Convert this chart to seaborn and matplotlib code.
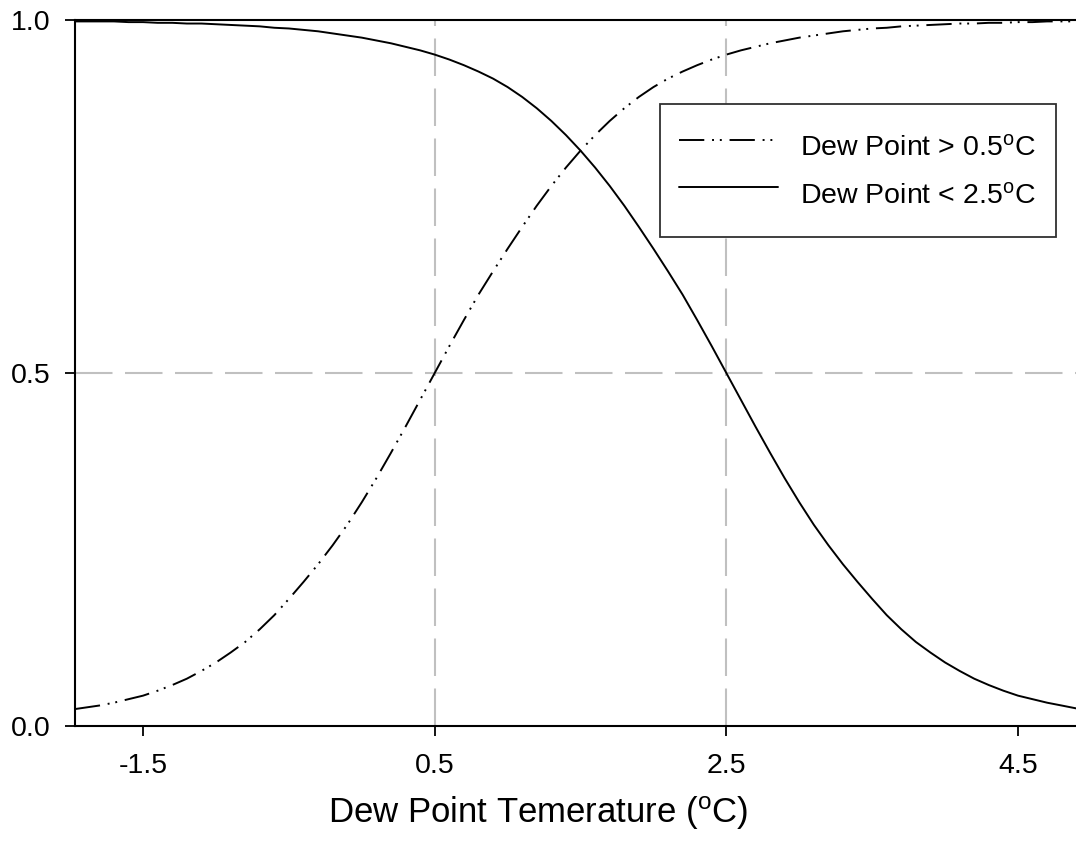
import matplotlib
matplotlib.use("Agg")
import matplotlib.pyplot as plt
import seaborn as sns
import pandas as pd

# ---- data ----
dew_x = [-1.967, -1.9, -1.8, -1.7, -1.6, -1.5, -1.4, -1.3, -1.2, -1.1, -1.0,
         -0.9, -0.8, -0.7, -0.6, -0.5, -0.4, -0.3, -0.2, -0.1, 0.0,
         0.1, 0.2, 0.3, 0.4, 0.5, 0.6, 0.7, 0.8, 0.9, 1.0,
         1.1, 1.2, 1.3, 1.4, 1.5, 1.6, 1.7, 1.8, 1.9, 2.0,
         2.1, 2.2, 2.3, 2.4, 2.5, 2.6, 2.7, 2.8, 2.9, 3.0,
         3.1, 3.2, 3.3, 3.4, 3.5, 3.6, 3.7, 3.8, 3.9, 4.0,
         4.1, 4.2, 4.3, 4.4, 4.5, 4.6, 4.7, 4.8, 4.898]
above_05 = [0.024, 0.026, 0.029, 0.033, 0.038, 0.043, 0.050, 0.058, 0.067, 0.078, 0.090,
            0.104, 0.119, 0.137, 0.157, 0.180, 0.204, 0.229, 0.256, 0.285, 0.317,
            0.351, 0.387, 0.424, 0.462, 0.500, 0.538, 0.575, 0.611, 0.644, 0.676,
            0.707, 0.737, 0.765, 0.791, 0.815, 0.837, 0.857, 0.875, 0.891, 0.905,
            0.917, 0.927, 0.936, 0.944, 0.951, 0.957, 0.962, 0.967, 0.971, 0.975,
            0.978, 0.981, 0.984, 0.986, 0.988, 0.989, 0.991, 0.992, 0.993, 0.994,
            0.995, 0.995, 0.996, 0.996, 0.997, 0.997, 0.998, 0.998, 0.998]
below_25 = [0.998, 0.998, 0.998, 0.998, 0.997, 0.997, 0.996, 0.996, 0.995, 0.995, 0.994,
            0.993, 0.992, 0.991, 0.989, 0.988, 0.986, 0.984, 0.981, 0.978, 0.975,
            0.971, 0.967, 0.962, 0.957, 0.951, 0.944, 0.936, 0.927, 0.917, 0.905,
            0.891, 0.875, 0.857, 0.837, 0.815, 0.791, 0.765, 0.737, 0.707, 0.676,
            0.644, 0.611, 0.575, 0.538, 0.500, 0.462, 0.424, 0.387, 0.351, 0.317,
            0.285, 0.256, 0.229, 0.204, 0.180, 0.157, 0.137, 0.119, 0.104, 0.090,
            0.078, 0.067, 0.058, 0.050, 0.043, 0.038, 0.033, 0.029, 0.025]
series_labels = [r"Dew Point > 0.5$^{\mathrm{o}}$C", r"Dew Point < 2.5$^{\mathrm{o}}$C"]
x_ticks = [-1.5, 0.5, 2.5, 4.5]
x_tick_labels = ["-1.5", "0.5", "2.5", "4.5"]
y_ticks = [0.0, 0.5, 1.0]
y_tick_labels = ["0.0", "0.5", "1.0"]
ref_x = [0.5, 2.5]
ref_y = [0.5]
x_label = r"Dew Point Temerature ($^{\mathrm{o}}$C)"

sns.set_theme(style="white")
plt.rcParams["font.family"] = ["Liberation Sans", "DejaVu Sans"]
plt.rcParams["mathtext.fontset"] = "custom"
plt.rcParams["mathtext.rm"] = "Liberation Sans"
plt.rcParams["mathtext.it"] = "Liberation Sans:italic"
plt.rcParams["mathtext.bf"] = "Liberation Sans:bold"
plt.rcParams["text.color"] = "black"

fig = plt.figure(figsize=(10.76, 8.52), dpi=100)
ax = fig.add_axes([75 / 1076, 1 - 726 / 852, 1 - 75 / 1076, (726 - 20) / 852])

df = pd.DataFrame({"x": dew_x, "above": above_05, "below": below_25})

grid_kw = dict(color="#c0c0c0", linewidth=1.5, linestyle=(0, (18, 6)), zorder=1)
for xv in ref_x:
    ax.axvline(xv, **grid_kw)
for yv in ref_y:
    ax.axhline(yv, **grid_kw)

sns.lineplot(data=df, x="x", y="above", ax=ax, color="black", linewidth=1.4,
             linestyle=(0, (13, 4, 1, 3, 1, 4)), label=series_labels[0], zorder=3)
sns.lineplot(data=df, x="x", y="below", ax=ax, color="black", linewidth=1.4,
             linestyle="-", label=series_labels[1], zorder=3)

ax.set_xlim(-1.967, 4.898)
ax.set_ylim(0, 1)
ax.set_xticks(x_ticks)
ax.set_xticklabels(x_tick_labels)
ax.set_yticks(y_ticks)
ax.set_yticklabels(y_tick_labels)
ax.set_xlabel("")
ax.set_ylabel("")
ax.tick_params(axis="both", direction="out", length=7.5, width=1.3, color="black",
               labelsize=20.5, labelcolor="black")
ax.tick_params(axis="x", pad=12)
ax.tick_params(axis="y", pad=10)
ax.tick_params(bottom=True, left=True)

for side in ["left", "bottom", "top"]:
    ax.spines[side].set_visible(True)
    ax.spines[side].set_color("black")
    ax.spines[side].set_linewidth(1.5)
ax.spines["right"].set_visible(False)

leg = ax.legend(loc="upper right", bbox_to_anchor=(0.980, 0.881), fontsize=20.5,
                frameon=True, fancybox=False, shadow=False, handlelength=3.45,
                handleheight=2.1, handletextpad=0.8, labelspacing=0.05,
                borderpad=0.7, borderaxespad=0.0, labelcolor="black")
leg.get_frame().set_edgecolor("#303030")
leg.get_frame().set_linewidth(1.3)
leg.get_frame().set_facecolor("white")
leg.get_frame().set_alpha(1)

fig.text(0.5, 1 - 813 / 852, x_label, ha="center", va="center", fontsize=25,
         color="black")

fig.savefig("out.png", dpi=100)
